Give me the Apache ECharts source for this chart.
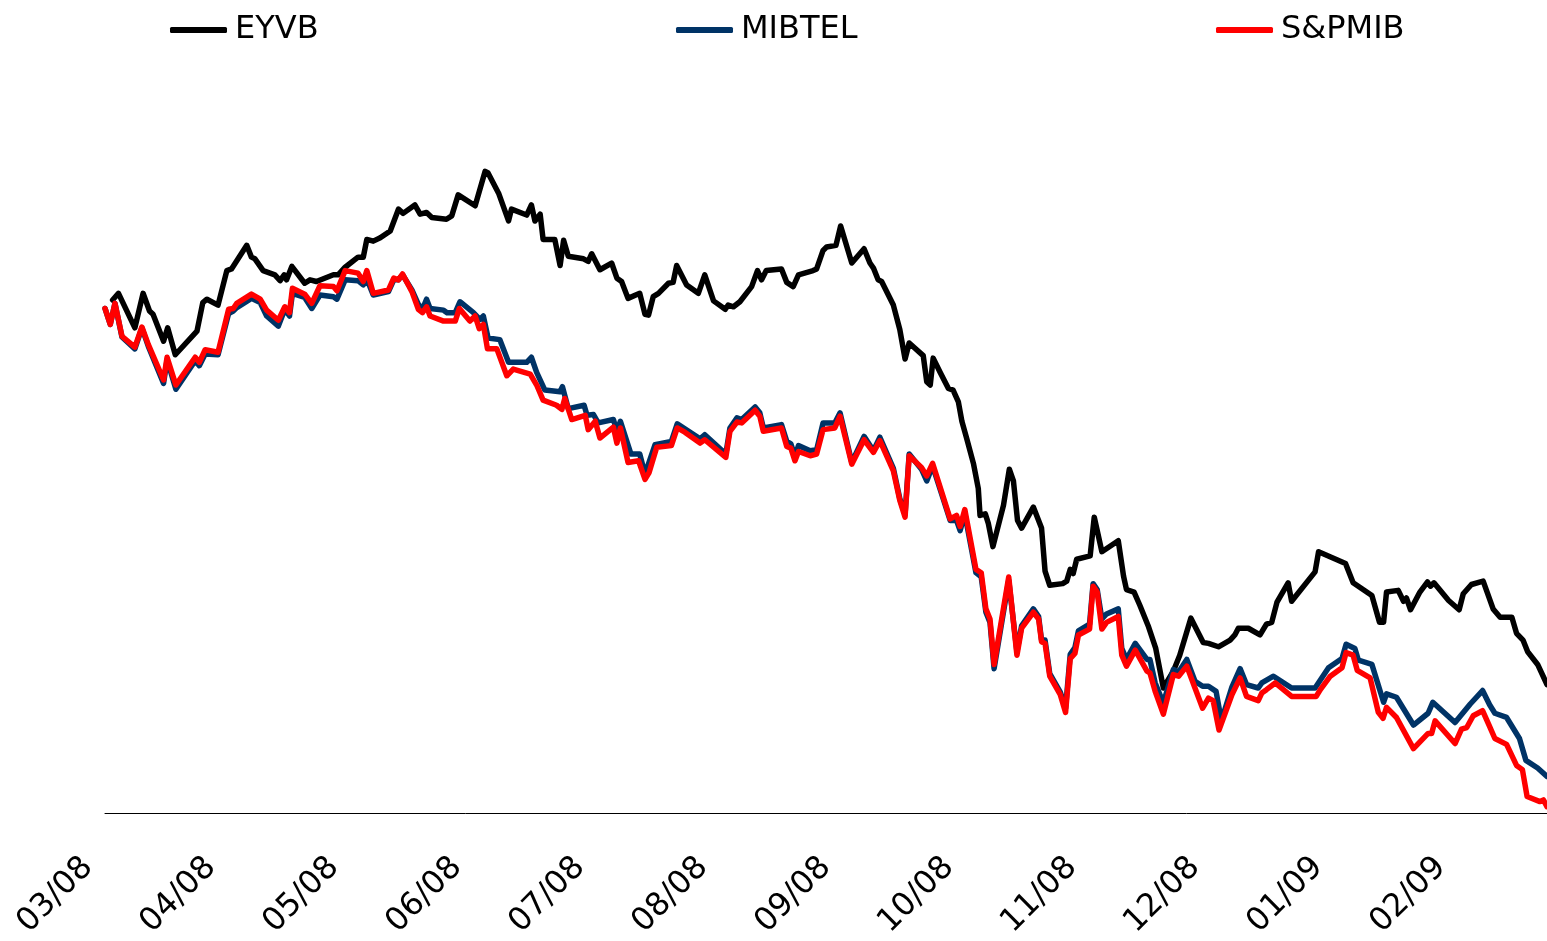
<!DOCTYPE html>
<html>
<head>
<meta charset="utf-8">
<script src="https://cdn.jsdelivr.net/npm/echarts@6/dist/echarts.min.js"></script>
<style>html,body{margin:0;padding:0;background:#fff;overflow:hidden}#c{width:1547px;height:941px}</style>
</head>
<body>
<div id="c"></div>
<script>
// x = trading-day index from early March 2008, y = index level (start = 100)
var tickLabels = ['03/08','04/08','05/08','06/08','07/08','08/08','09/08','10/08','11/08','12/08','01/09','02/09'];
var seriesNames = ['EYVB','MIBTEL','S&PMIB'];

var eyvb = [[1.3,101.0],[2.3,101.8],[5.1,97.7],[6.5,101.8],[7.6,99.7],[8.2,99.3],[10.0,96.1],[10.7,97.7],[12.0,94.5],[15.7,97.3],[16.7,100.7],[17.4,101.1],[19.3,100.4],[20.8,104.5],[21.6,104.7],[24.2,107.5],[25.0,106.1],[25.6,105.9],[27.0,104.5],[29.0,104.0],[29.9,103.3],[30.6,104.0],[31.0,103.4],[31.9,105.0],[34.1,103.0],[35.0,103.4],[36.1,103.2],[39.0,104.0],[39.8,104.0],[41.0,104.9],[43.2,106.1],[44.1,106.1],[44.7,108.2],[45.8,108.0],[47.0,108.4],[48.7,109.2],[50.1,111.8],[50.9,111.3],[52.9,112.3],[53.8,111.2],[54.9,111.4],[55.8,110.8],[58.3,110.6],[59.2,111.0],[60.3,113.5],[63.2,112.2],[64.9,116.3],[65.4,116.1],[67.2,113.7],[68.9,110.4],[69.4,111.8],[72.0,111.1],[72.8,112.3],[73.4,110.4],[74.3,111.2],[74.8,108.2],[76.8,108.2],[77.7,105.1],[78.3,108.1],[79.1,106.2],[81.7,105.9],[82.5,105.6],[83.1,106.5],[84.5,104.6],[86.5,105.4],[87.4,103.6],[88.2,103.2],[89.3,101.2],[91.3,101.8],[92.2,99.3],[92.8,99.2],[93.6,101.4],[94.5,101.8],[96.2,103.0],[97.0,103.1],[97.6,105.1],[99.3,102.8],[101.3,101.8],[102.4,104.0],[103.9,100.9],[105.9,99.9],[106.4,100.4],[107.3,100.2],[108.4,100.8],[110.4,102.6],[111.4,104.5],[112.1,103.4],[112.9,104.5],[115.5,104.7],[116.4,103.1],[117.5,102.6],[118.4,104.0],[120.9,104.5],[121.5,104.7],[122.6,106.9],[123.2,107.3],[124.8,107.5],[125.6,109.8],[127.5,105.4],[129.6,107.1],[130.6,105.4],[131.2,104.8],[132.0,103.4],[132.6,103.2],[134.6,100.4],[135.7,97.5],[136.6,94.0],[137.3,95.9],[139.7,94.4],[140.3,91.3],[140.9,90.9],[141.4,94.1],[142.6,92.4],[144.0,90.5],[144.8,90.3],[145.7,88.9],[146.3,86.6],[147.1,84.6],[148.3,81.5],[149.1,78.6],[149.4,75.4],[150.3,75.6],[150.8,74.5],[151.6,71.7],[153.4,76.6],[154.4,80.9],[155.1,79.5],[155.8,74.8],[156.5,73.9],[158.5,76.4],[159.9,73.9],[160.5,68.8],[161.3,67.1],[163.5,67.3],[164.2,67.6],[164.8,69.0],[165.3,68.5],[165.9,70.2],[168.2,70.6],[168.9,75.2],[170.2,71.1],[173.0,72.4],[173.9,68.2],[174.4,66.6],[175.7,66.3],[176.7,64.7],[178.1,62.3],[179.4,59.6],[180.7,54.9],[182.4,56.9],[183.5,58.8],[185.4,63.2],[187.5,60.3],[188.4,60.2],[190.1,59.8],[192.1,60.6],[192.9,61.2],[193.5,62.0],[195.2,62.0],[197.2,61.2],[198.3,62.5],[199.2,62.7],[200.1,65.1],[202.0,67.4],[202.6,65.2],[206.6,68.7],[207.2,71.1],[211.8,69.7],[213.1,67.4],[216.3,65.9],[217.6,62.7],[218.3,62.7],[218.8,66.3],[220.8,66.5],[221.7,65.2],[222.2,65.6],[222.9,64.2],[224.5,66.3],[225.8,67.5],[226.3,67.0],[226.9,67.4],[229.4,65.3],[231.2,64.2],[231.9,66.1],[233.3,67.2],[235.3,67.6],[237.0,64.3],[238.2,63.3],[240.2,63.3],[241.0,61.4],[242.1,60.6],[242.9,59.2],[244.6,57.7],[246.2,55.3]];

var mibtel = [[0,100.0],[0.9,98.1],[1.7,100.6],[2.9,96.6],[5.1,95.2],[6.3,97.7],[7.4,95.5],[10.0,91.1],[10.6,93.9],[12.1,90.4],[15.4,93.8],[16.1,93.2],[17.1,94.6],[19.3,94.5],[21.1,99.4],[21.9,99.7],[22.5,100.1],[25.0,101.2],[26.5,100.7],[27.6,99.1],[29.6,97.9],[30.7,99.9],[31.5,99.1],[32.0,101.8],[34.1,101.3],[35.3,100.0],[36.7,101.6],[39.0,101.4],[39.6,101.1],[41.0,103.4],[43.2,103.3],[44.1,102.8],[44.7,103.5],[45.8,101.6],[48.4,102.0],[49.3,103.4],[50.1,103.4],[50.8,104.0],[52.4,102.2],[53.5,100.5],[54.2,99.9],[54.9,101.1],[55.5,100.0],[57.8,99.8],[58.4,99.5],[59.8,99.5],[60.6,100.8],[62.9,99.5],[64.0,98.7],[64.6,99.1],[65.4,96.5],[67.4,96.3],[68.9,93.6],[72.0,93.6],[72.8,94.2],[73.7,92.4],[75.1,90.3],[77.7,90.1],[78.1,90.7],[79.1,88.1],[81.8,88.5],[82.3,87.3],[83.4,87.4],[84.2,86.4],[86.8,86.8],[87.4,85.4],[88.0,86.6],[89.8,82.7],[91.3,82.7],[92.2,80.3],[93.9,83.8],[96.7,84.2],[97.7,86.3],[99.0,85.7],[101.6,84.5],[102.4,85.0],[106.0,82.7],[106.7,85.8],[107.9,87.0],[108.7,86.8],[111.0,88.3],[111.8,87.6],[112.4,85.8],[115.5,86.2],[116.4,84.2],[117.1,83.9],[117.8,82.4],[118.4,83.7],[120.4,83.1],[121.5,83.2],[122.6,86.4],[124.6,86.4],[125.5,87.6],[127.5,81.7],[129.6,84.8],[131.2,83.1],[132.3,84.7],[134.6,81.0],[135.7,77.4],[136.6,75.5],[137.3,82.7],[139.4,80.9],[140.3,79.5],[141.3,81.3],[144.3,74.8],[145.4,74.8],[146.0,73.6],[146.8,75.6],[148.7,68.6],[149.6,68.1],[150.4,63.9],[151.1,62.7],[151.8,57.2],[154.3,67.7],[155.7,59.2],[156.5,62.3],[158.5,64.3],[159.4,63.4],[159.9,60.6],[160.5,60.6],[161.3,56.6],[163.1,54.4],[164.0,52.5],[164.8,58.9],[165.6,59.7],[166.2,61.7],[168.1,62.5],[168.7,67.3],[169.4,66.6],[170.2,63.1],[171.0,63.7],[173.0,64.3],[173.6,59.6],[174.4,58.3],[175.9,60.2],[177.9,58.3],[178.4,58.3],[179.3,55.5],[180.7,53.1],[182.4,57.1],[183.3,56.8],[184.7,58.3],[186.1,55.7],[187.4,55.1],[188.4,55.1],[189.7,54.5],[190.6,51.0],[192.4,55.0],[193.8,57.2],[194.9,55.3],[196.9,54.9],[197.5,55.5],[199.5,56.3],[202.6,54.9],[206.6,54.9],[208.9,57.3],[211.2,58.4],[211.9,60.1],[213.4,59.6],[214.0,58.2],[216.3,57.7],[218.3,53.2],[218.8,54.2],[220.5,53.8],[223.4,50.5],[225.9,51.9],[226.7,53.2],[230.5,50.8],[233.1,53.0],[235.2,54.6],[236.4,52.9],[237.3,51.9],[239.3,51.4],[241.5,48.9],[242.6,46.3],[244.6,45.4],[246.2,44.4]];

var spmib = [[0,100.0],[0.9,98.1],[1.7,100.6],[2.9,96.7],[5.1,95.4],[6.3,97.8],[7.4,95.7],[10.0,91.5],[10.6,94.2],[12.1,90.9],[15.4,94.2],[16.1,93.6],[17.1,95.1],[19.3,94.8],[21.1,99.9],[21.9,100.0],[22.5,100.6],[25.0,101.7],[26.5,101.1],[27.6,99.8],[29.6,98.6],[30.7,100.2],[31.5,99.5],[32.0,102.4],[34.1,101.7],[35.3,100.6],[36.7,102.7],[39.0,102.6],[39.6,102.1],[41.0,104.5],[43.2,104.2],[44.1,103.2],[44.7,104.5],[45.8,101.8],[48.4,102.2],[49.3,103.6],[50.1,103.4],[50.8,104.1],[52.4,102.0],[53.5,99.9],[54.2,99.5],[54.9,100.2],[55.5,99.1],[57.8,98.5],[59.8,98.5],[60.5,100.0],[62.3,98.5],[63.2,99.1],[63.9,97.6],[64.6,98.1],[65.3,95.2],[66.9,95.2],[68.6,92.0],[69.7,92.8],[72.6,92.2],[73.7,90.9],[74.8,89.1],[77.1,88.5],[78.0,88.0],[78.5,89.3],[79.7,86.8],[82.0,87.3],[82.5,85.6],[83.7,86.6],[84.5,84.6],[86.8,85.9],[87.4,84.0],[88.0,85.8],[89.3,81.7],[91.1,81.9],[92.2,79.7],[92.9,80.5],[94.2,83.5],[96.7,83.7],[97.7,85.8],[99.0,85.3],[101.6,84.0],[102.4,84.4],[106.0,82.3],[106.7,85.4],[107.9,86.5],[108.7,86.4],[111.0,87.9],[111.8,87.2],[112.4,85.4],[115.5,85.8],[116.4,83.6],[117.1,83.4],[117.8,81.9],[118.4,83.0],[120.4,82.5],[121.5,82.7],[122.6,85.6],[124.6,85.8],[125.5,87.2],[127.5,81.5],[129.6,84.4],[131.2,82.9],[132.3,84.3],[134.6,80.7],[135.7,77.2],[136.6,75.2],[137.3,82.5],[139.4,81.1],[140.3,80.1],[141.3,81.6],[144.3,75.0],[145.4,75.4],[146.0,74.1],[146.8,76.1],[148.7,69.0],[149.6,68.6],[150.4,64.3],[151.1,63.1],[151.8,57.7],[154.3,68.1],[155.7,58.8],[156.5,62.0],[158.5,63.9],[159.4,63.1],[159.9,60.4],[160.5,60.2],[161.3,56.3],[163.1,54.1],[164.0,52.0],[164.8,58.4],[165.6,59.0],[166.2,61.2],[168.1,61.9],[168.7,67.0],[169.4,66.3],[170.2,61.9],[171.0,62.7],[173.0,63.4],[173.6,58.8],[174.4,57.5],[175.9,59.4],[177.9,56.9],[178.4,56.7],[179.3,54.5],[180.7,51.8],[182.4,56.5],[183.3,56.3],[184.7,57.5],[186.1,54.9],[187.4,52.5],[188.4,53.7],[189.2,53.4],[190.2,49.9],[192.4,54.1],[193.8,56.1],[194.9,53.9],[196.9,53.4],[197.5,54.3],[198.3,54.7],[199.8,55.5],[202.6,53.9],[206.8,53.9],[207.5,54.7],[209.2,56.3],[211.2,57.3],[211.9,59.1],[213.1,58.8],[213.8,57.0],[216.0,56.1],[217.4,52.0],[218.2,51.3],[218.8,52.6],[220.5,51.4],[223.4,47.7],[225.9,49.5],[226.5,49.5],[227.1,51.0],[230.5,48.3],[231.6,50.0],[232.5,50.2],[233.6,51.6],[235.2,52.2],[236.3,50.5],[237.3,48.9],[239.3,48.2],[241.0,45.7],[242.0,45.2],[242.8,42.0],[245.0,41.4],[245.6,41.6],[246.2,40.8]];

var colors = ['#000000', '#003366', '#ff0000'];
var font = 'DejaVu Sans, Verdana, sans-serif';

function mkLegend(name, left) {
  return {
    data: [{ name: name, icon: 'roundRect' }], left: left, top: 9,
    itemWidth: 57, itemHeight: 6, itemGap: 0,
    textStyle: { fontSize: 32, color: '#000', fontFamily: font, padding: [0, 0, 0, 3] }
  };
}

var chart = echarts.init(document.getElementById('c'), null, { renderer: 'canvas', width: 1547, height: 941 });
chart.setOption({
  animation: false,
  backgroundColor: '#fff',
  legend: [mkLegend(seriesNames[0], 165), mkLegend(seriesNames[1], 671), mkLegend(seriesNames[2], 1211)],
  grid: { left: 105, width: 1442, top: 56, height: 768, containLabel: false },
  xAxis: {
    type: 'value', min: 0, max: 246.2, interval: 21,
    splitLine: { show: false },
    axisTick: { show: false },
    axisLine: { show: true, lineStyle: { color: '#000', width: 1 } },
    axisLabel: {
      rotate: 45, margin: 32, fontSize: 32, color: '#000', fontFamily: font,
      padding: [0, 24, 0, 0],
      showMaxLabel: false,
      formatter: function (v) {
        var k = v / 21;
        if (Math.abs(k - Math.round(k)) > 1e-6) return '';
        return tickLabels[Math.round(k)] || '';
      }
    }
  },
  yAxis: {
    type: 'value', min: 40, max: 130,
    show: false, splitLine: { show: false }
  },
  series: [
    { name: seriesNames[0], type: 'line', data: eyvb, symbol: 'none', color: colors[0],
      lineStyle: { width: 5.5, color: colors[0], join: 'round', cap: 'round' } },
    { name: seriesNames[1], type: 'line', data: mibtel, symbol: 'none', color: colors[1],
      lineStyle: { width: 5.5, color: colors[1], join: 'round', cap: 'round' } },
    { name: seriesNames[2], type: 'line', data: spmib, symbol: 'none', color: colors[2],
      lineStyle: { width: 5.5, color: colors[2], join: 'round', cap: 'round' } }
  ]
});
</script>
</body>
</html>
